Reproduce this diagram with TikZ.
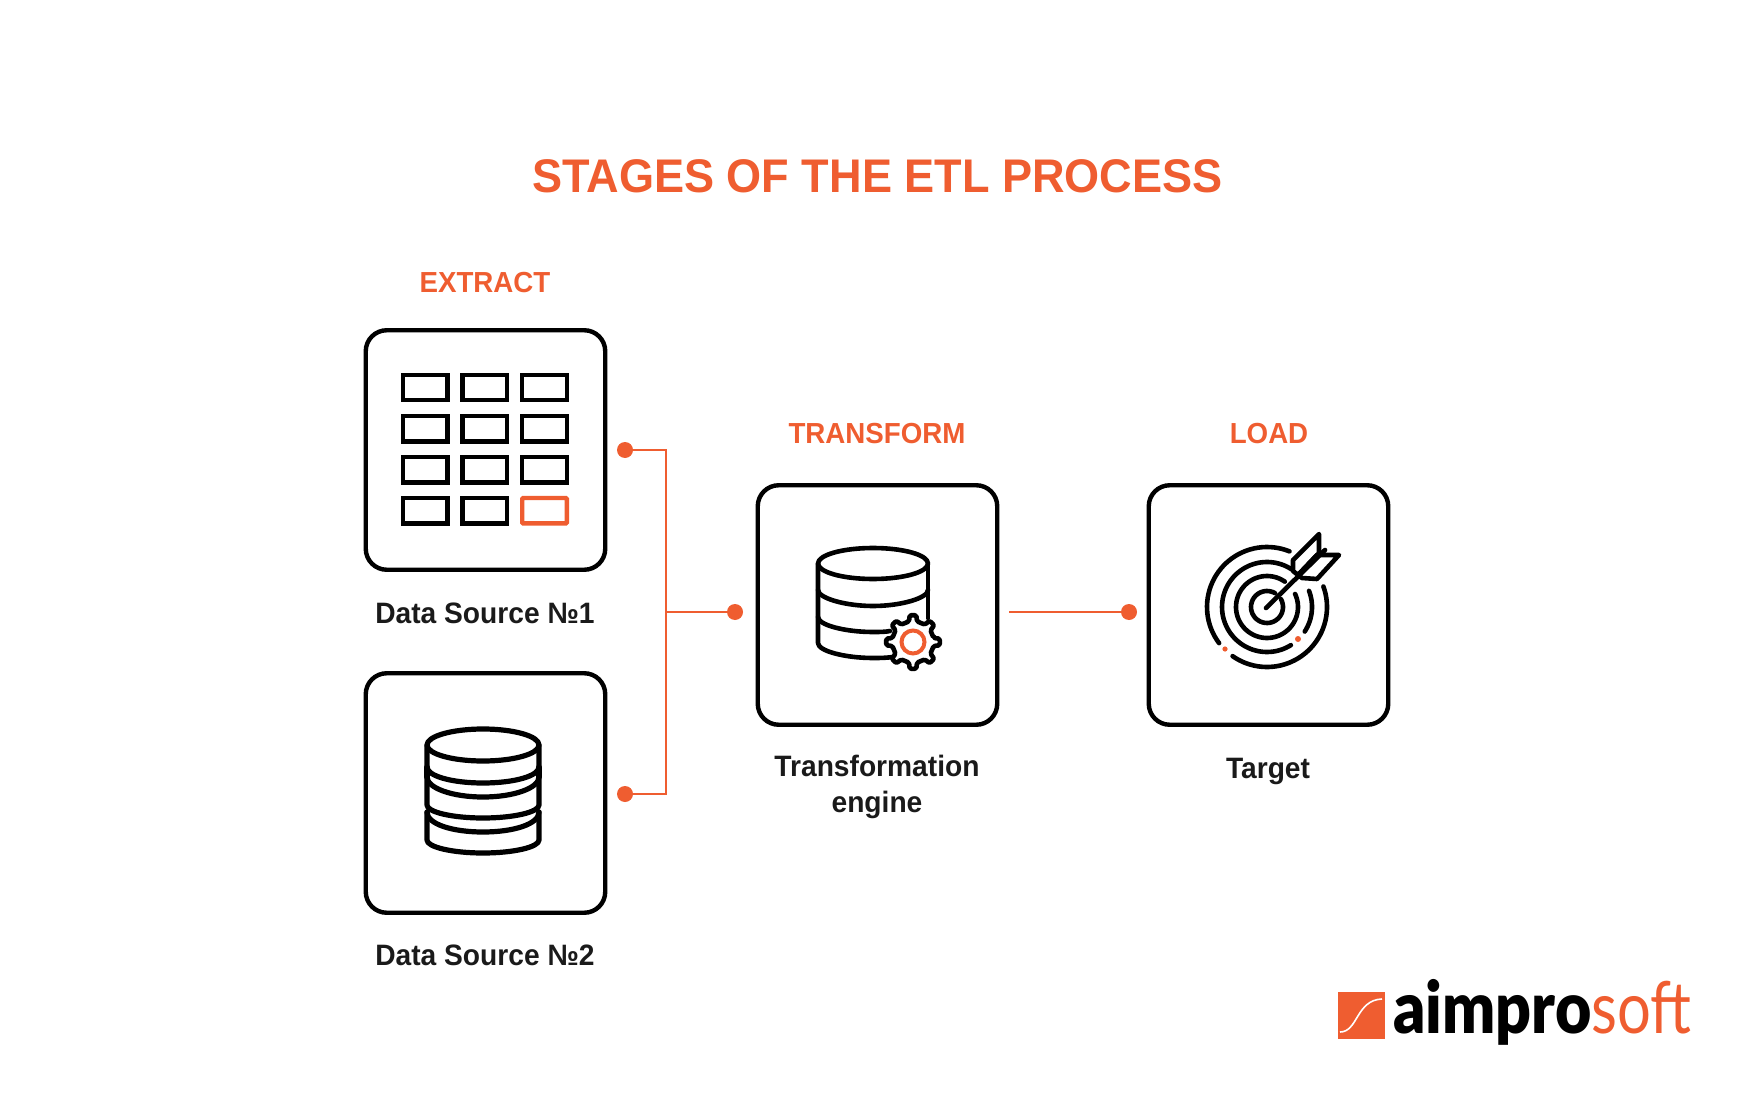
\documentclass[tikz,border=0pt]{standalone}
\usepackage{fontspec}
\usepackage{xcolor}
\usetikzlibrary{positioning}
\setmainfont[FakeStretch=0.955]{Liberation Sans}
\newfontfamily\logodark[FakeStretch=0.87]{Lato Black}
\newfontfamily\logolight[FakeStretch=0.83]{Lato}
\definecolor{etlorange}{HTML}{EF5D30}
\definecolor{etlblack}{HTML}{1A1A1A}
\newcommand{\ringarc}[3]{\draw[icon_line] plot[smooth,domain=#2:#3,samples=40] ({1267+#1*cos(\x)},{607-#1*sin(\x)});}

\begin{document}
\begin{tikzpicture}[x=1pt,y=-1pt,
	box_node/.style={rectangle,draw=black,line width=4.4pt,rounded corners=21pt,minimum size=239.5pt,inner sep=0pt},
	dot_node/.style={circle,fill=etlorange,minimum size=16pt,inner sep=0pt},
	stage_label/.style={text=etlorange,font=\bfseries\fontsize{29}{32}\selectfont},
	name_label/.style={text=etlblack,font=\bfseries\fontsize{29.5}{36}\selectfont,align=center},
	flow_line/.style={draw=etlorange,line width=1.6pt},
	icon_line/.style={draw=black,line width=4.6pt,line cap=round,line join=round}]
	\useasboundingbox (0,0) rectangle (1754,1115);
	\node[text=etlorange,font=\bfseries\fontsize{47.2}{50}\selectfont] (title) at (877.5,176) {STAGES OF THE ETL PROCESS};

	\node[box_node] (source_a) at (485.5,450) {};
	\node[box_node] (source_b) at (485.5,793) {};
	\node[box_node] (engine) at (877.5,605) {};
	\node[box_node] (target) at (1268.5,605) {};

	\node[stage_label] (extract) at (485,283) {EXTRACT};
	\node[stage_label] (transform) at (877,434) {TRANSFORM};
	\node[stage_label] (load) at (1269,434) {LOAD};
	\node[name_label,anchor=base] (source_a_name) at (485,623) {Data Source №1};
	\node[name_label,anchor=base] (source_b_name) at (485,965) {Data Source №2};
	\node[name_label,anchor=north] (engine_name) at (877,752) {Transformation\\engine};
	\node[name_label,anchor=base] (target_name) at (1268,778) {Target};

	\node[dot_node] (dot_a) at (625,450) {};
	\node[dot_node] (dot_b) at (625,794) {};
	\node[dot_node] (dot_c) at (735,612) {};
	\node[dot_node] (dot_d) at (1129,612) {};
	\coordinate (bend_a) at (666,450);
	\coordinate (bend_b) at (666,794);
	\coordinate (bend_c) at (666,612);
	\coordinate (line_start) at (1009,612);
	\draw[flow_line] (dot_a) -- (bend_a) -- (bend_b) -- (dot_b);
	\path[flow_line]
	(bend_c) edge (dot_c)
	(line_start) edge (dot_d);

	% table icon
	\foreach \col in {425,484.7,544.5}
		\foreach \row in {387.5,428.7,469.7}
			\draw[black,line width=4.4pt] (\col-22.3,\row-12.7) rectangle (\col+22.3,\row+12.7);
	\foreach \col in {425,484.7}
		\draw[black,line width=4.4pt] (\col-22.3,510.7-12.7) rectangle (\col+22.3,510.7+12.7);
	\draw[etlorange,line width=4.4pt,rounded corners=1pt] (544.5-22.3,510.7-12.7) rectangle (544.5+22.3,510.7+12.7);

	% stacked cylinder
	\begin{scope}[icon_line/.append style={line width=5.2pt}]
		\draw[icon_line] (483,745) ellipse [x radius=56,y radius=16];
		\draw[icon_line] (427,745) -- (427,767) .. controls (427,776) and (452,783) .. (483,783) .. controls (514,783) and (539,776) .. (539,767) -- (539,745);
		\draw[icon_line] (427,777) .. controls (427,788) and (452,797) .. (483,797) .. controls (514,797) and (539,788) .. (539,777);
		\draw[icon_line] (427,767) -- (427,777) (539,767) -- (539,777);
		\draw[icon_line] (427,777) -- (427,805) .. controls (427,812) and (452,818) .. (483,818) .. controls (514,818) and (539,812) .. (539,805) -- (539,777);
		\draw[icon_line] (427,812) .. controls (427,824) and (452,832) .. (483,832) .. controls (514,832) and (539,824) .. (539,812);
		\draw[icon_line] (427,812) -- (427,840) .. controls (427,847) and (452,853) .. (483,853) .. controls (514,853) and (539,847) .. (539,840) -- (539,812);
	\end{scope}

	% cylinder with gear
	\draw[icon_line] (873,563.5) ellipse [x radius=55,y radius=15.5];
	\draw[icon_line] (818,563.5) -- (818,643) .. controls (818,651) and (845,658) .. (873,658) .. controls (880,658) and (885,658) .. (893,657);
	\draw[icon_line] (818,590) .. controls (818,598) and (845,606) .. (873,606) .. controls (901,606) and (928,598) .. (928,590);
	\draw[icon_line] (818,617) .. controls (818,625) and (845,632) .. (873,632) .. controls (880,632) and (885,632) .. (890,631);
	\draw[icon_line] (928,563.5) -- (928,618);
	\begin{scope}[shift={(913,642)}]
		\draw[icon_line,fill=white,rounded corners=1.5pt] (-11:21)
		\foreach \tooth in {0,45,...,315} {
			-- (\tooth-11:21) -- (\tooth-7:27) -- (\tooth+7:27) -- (\tooth+11:21)
		} -- cycle;
		\draw[etlorange,line width=4pt] (0,0) circle (11.5);
	\end{scope}

	% target
	\ringarc{60}{68}{217}
	\ringarc{60}{235}{380}
	\ringarc{45}{57}{302}
	\ringarc{45}{-33}{21}
	\ringarc{31}{55}{385}
	\ringarc{16}{60}{390}
	\draw[icon_line] (1266,608) -- (1325,550);
	\draw[icon_line] (1298,575) -- (1293,571) -- (1293,560) -- (1319,534) -- (1319,553) -- (1298,575);
	\draw[icon_line] (1298,575) -- (1317,555) -- (1339,555) -- (1317,579) -- (1302,578) -- cycle;
	\fill[etlorange] (1225,649) circle (2.6) (1298,639) circle (3);

	% logo
	\fill[etlorange] (1338,992) rectangle (1385,1039);
	\draw[white,line width=1.6pt] (1340,1032) .. controls (1358,1032) and (1356,1000) .. (1382,999);
	\node[anchor=base west,inner sep=0pt,font=\logodark\fontsize{72}{72}\selectfont] (logo_dark) at (1393,1033) {aimpro};
	\node[anchor=base west,inner sep=0pt,text=etlorange,font=\logolight\fontsize{72}{72}\selectfont] (logo_soft) at (logo_dark.base east) {soft};
\end{tikzpicture}
\end{document}
